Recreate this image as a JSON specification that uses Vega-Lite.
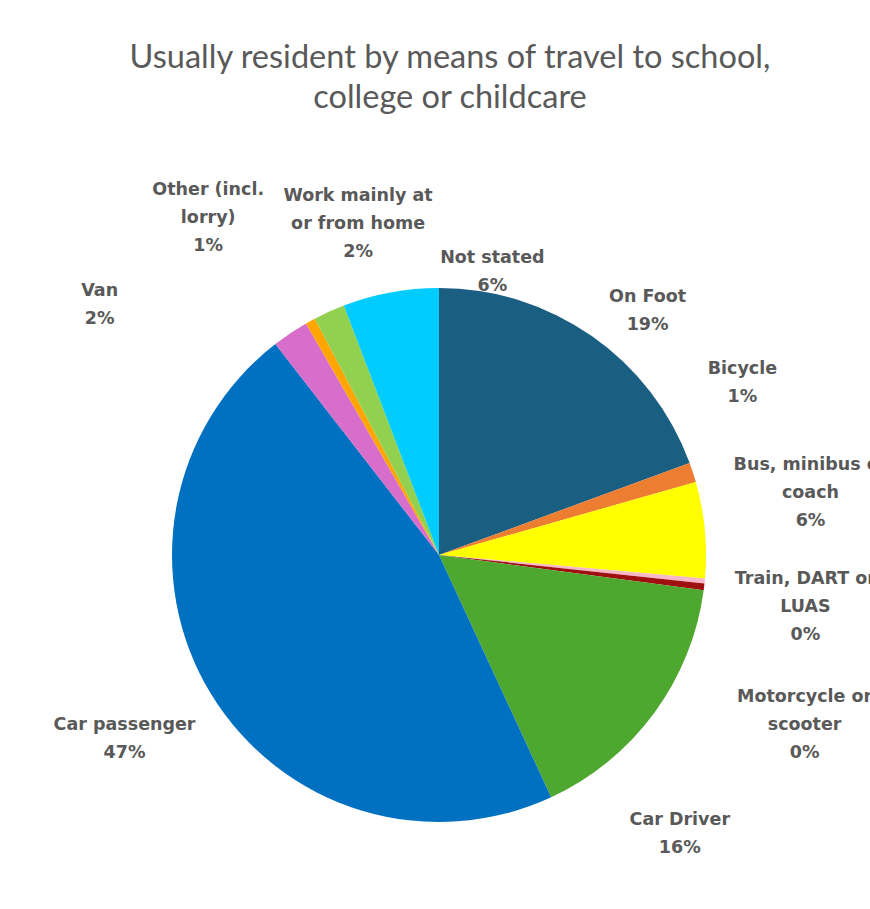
{
  "$schema": "https://vega.github.io/schema/vega-lite/v6.json",
  "width": 862,
  "height": 700,
  "autosize": "none",
  "padding": {"left": 8, "top": 205, "right": 0, "bottom": 4},
  "background": "white",
  "config": {"view": {"stroke": null}, "text": {"lineBreak": "\n", "font": "DejaVu Sans", "fontWeight": "bold", "fontSize": 17.5, "color": "#595959", "lineHeight": 28}},
  "title": {
    "text": ["Usually resident by means of travel to school,", "college or childcare"],
    "font": "Lato",
    "fontSize": 32.5,
    "fontWeight": "normal",
    "color": "#595959",
    "lineHeight": 40,
    "anchor": "middle",
    "frame": "group",
    "dx": 11,
    "offset": 16
  },
  "data": {
    "values": [
      {"idx": 1, "mode": "On Foot", "value": 19.4, "label": "On Foot\n19%"},
      {"idx": 2, "mode": "Bicycle", "value": 1.2, "label": "Bicycle\n1%"},
      {"idx": 3, "mode": "Bus, minibus or coach", "value": 5.8, "label": "Bus, minibus or\ncoach\n6%"},
      {"idx": 4, "mode": "Train, DART or LUAS", "value": 0.3, "label": "Train, DART or\nLUAS\n0%"},
      {"idx": 5, "mode": "Motorcycle or scooter", "value": 0.4, "label": "Motorcycle or\nscooter\n0%"},
      {"idx": 6, "mode": "Car Driver", "value": 16.0, "label": "Car Driver\n16%"},
      {"idx": 7, "mode": "Car passenger", "value": 46.4, "label": "Car passenger\n47%"},
      {"idx": 8, "mode": "Van", "value": 2.2, "label": "Van\n2%"},
      {"idx": 9, "mode": "Other (incl. lorry)", "value": 0.6, "label": "Other (incl.\nlorry)\n1%"},
      {"idx": 10, "mode": "Work mainly at or from home", "value": 1.9, "label": "Work mainly at\nor from home\n2%"},
      {"idx": 11, "mode": "Not stated", "value": 5.8, "label": "Not stated\n6%"}
    ]
  },
  "encoding": {
    "theta": {"field": "value", "type": "quantitative", "stack": true},
    "order": {"field": "idx", "type": "quantitative"}
  },
  "layer": [
    {
      "mark": {"type": "arc", "outerRadius": 267},
      "encoding": {
        "color": {
          "field": "mode",
          "type": "nominal",
          "legend": null,
          "scale": {
            "domain": ["On Foot", "Bicycle", "Bus, minibus or coach", "Train, DART or LUAS", "Motorcycle or scooter", "Car Driver", "Car passenger", "Van", "Other (incl. lorry)", "Work mainly at or from home", "Not stated"],
            "range": ["#1A5E82", "#ED7D31", "#FFFF00", "#F8B8C8", "#A01010", "#4EA72E", "#0070C0", "#D86ECC", "#FFA500", "#92D050", "#00CCFF"]
          }
        }
      }
    },
    {"mark": {"type": "text", "radius": 340, "dx": 14, "dy": 21}, "encoding": {"text": {"condition": {"test": "datum.mode === 'On Foot'", "field": "label"}, "value": ""}}},
    {"mark": {"type": "text", "radius": 340, "dx": -20, "dy": -81}, "encoding": {"text": {"condition": {"test": "datum.mode === 'Bicycle'", "field": "label"}, "value": ""}}},
    {"mark": {"type": "text", "radius": 340, "dx": 33, "dy": -58}, "encoding": {"text": {"condition": {"test": "datum.mode === 'Bus, minibus or coach'", "field": "label"}, "value": ""}}},
    {"mark": {"type": "text", "radius": 340, "dx": 28, "dy": -9}, "encoding": {"text": {"condition": {"test": "datum.mode === 'Train, DART or LUAS'", "field": "label"}, "value": ""}}},
    {"mark": {"type": "text", "radius": 340, "dx": 28, "dy": 102}, "encoding": {"text": {"condition": {"test": "datum.mode === 'Motorcycle or scooter'", "field": "label"}, "value": ""}}},
    {"mark": {"type": "text", "radius": 340, "dx": -33, "dy": 63}, "encoding": {"text": {"condition": {"test": "datum.mode === 'Car Driver'", "field": "label"}, "value": ""}}},
    {"mark": {"type": "text", "radius": 340, "dx": -24, "dy": -7}, "encoding": {"text": {"condition": {"test": "datum.mode === 'Car passenger'", "field": "label"}, "value": ""}}},
    {"mark": {"type": "text", "radius": 340, "dx": -150, "dy": 18}, "encoding": {"text": {"condition": {"test": "datum.mode === 'Van'", "field": "label"}, "value": ""}}},
    {"mark": {"type": "text", "radius": 340, "dx": -67, "dy": -67}, "encoding": {"text": {"condition": {"test": "datum.mode === 'Other (incl. lorry)'", "field": "label"}, "value": ""}}},
    {"mark": {"type": "text", "radius": 340, "dx": 59, "dy": -49}, "encoding": {"text": {"condition": {"test": "datum.mode === 'Work mainly at or from home'", "field": "label"}, "value": ""}}},
    {"mark": {"type": "text", "radius": 340, "dx": 115, "dy": 37}, "encoding": {"text": {"condition": {"test": "datum.mode === 'Not stated'", "field": "label"}, "value": ""}}}
  ]
}
